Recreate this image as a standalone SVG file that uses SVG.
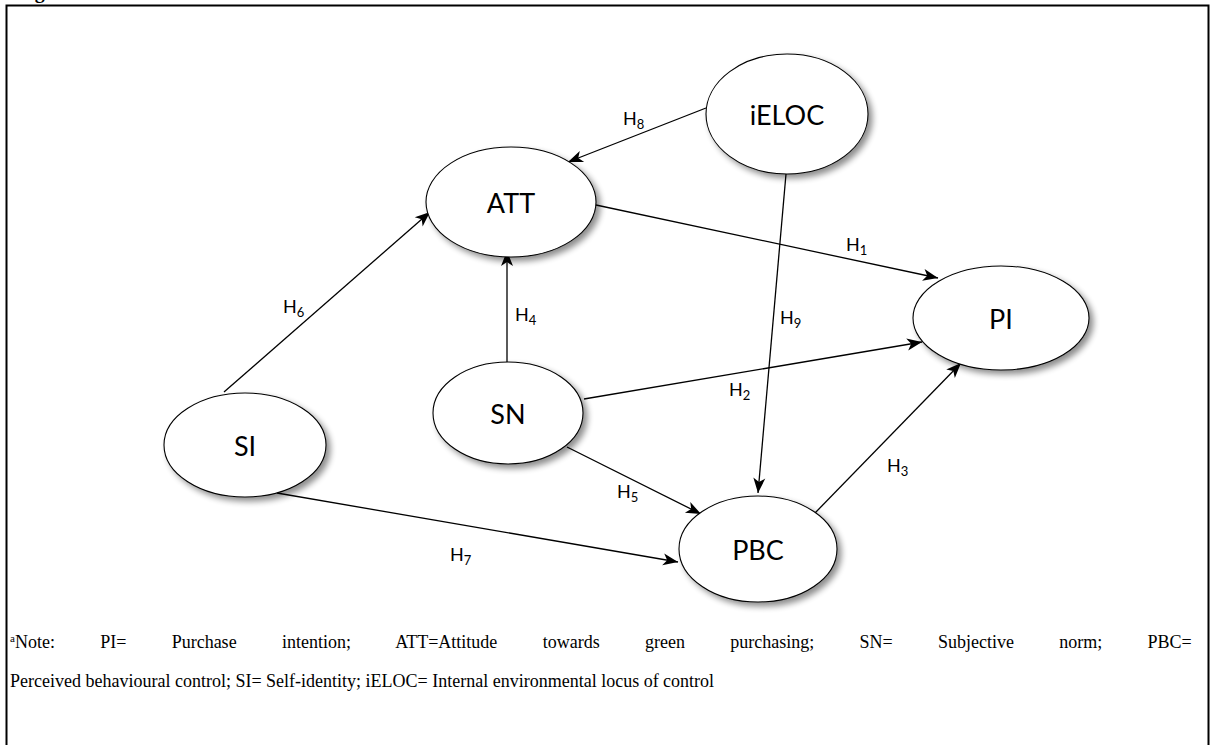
<svg xmlns="http://www.w3.org/2000/svg" width="1211" height="745" viewBox="0 0 1211 745">
<style>
.node{fill:#fff;stroke:#000;stroke-width:1.1;filter:url(#sh)}
.nt{font-family:Lato,"Open Sans",sans-serif;font-size:27px;fill:#000;text-anchor:middle;dominant-baseline:central}
.lb{font-family:Lato,"Open Sans",sans-serif;font-size:18px;fill:#000}
.sub{font-size:13px}
.edge{stroke:#000;stroke-width:1.3;fill:none;marker-end:url(#ah)}
.note{font-family:"Liberation Serif","Times New Roman",serif;font-size:18px;fill:#000}
</style>
<defs>
<filter id="sh" x="-20%" y="-20%" width="140%" height="150%">
<feGaussianBlur in="SourceAlpha" stdDeviation="3"/>
<feOffset dx="4" dy="4" result="b"/>
<feComponentTransfer><feFuncA type="linear" slope="0.45"/></feComponentTransfer>
<feMerge><feMergeNode/><feMergeNode in="SourceGraphic"/></feMerge>
</filter>
<marker id="ah" markerWidth="18" markerHeight="14" refX="15" refY="0" viewBox="-1 -7 18 14" orient="auto" markerUnits="userSpaceOnUse">
<path d="M0,-6 L15,0 L0,6 L4,0 Z" fill="#000"/>
</marker>
</defs>
<rect width="1211" height="745" fill="#fff"/>
<text x="17" y="-2" font-family="Liberation Serif,serif" font-weight="bold" font-size="20">Figure 1</text>
<path d="M6.5,745 V5.5 H1208.5 V745" fill="none" stroke="#000" stroke-width="2"/>

<g id="connectors">
<line class="edge" x1="706" y1="108" x2="568" y2="162"/>
<line class="edge" x1="596" y1="205" x2="938" y2="278"/>
<line class="edge" x1="786" y1="174" x2="758" y2="493"/>
<line class="edge" x1="224" y1="392" x2="430" y2="212"/>
<line class="edge" x1="507" y1="363" x2="507" y2="251"/>
<line class="edge" x1="584" y1="399" x2="922" y2="342"/>
<line class="edge" x1="567" y1="447" x2="701" y2="514"/>
<line class="edge" x1="815" y1="513" x2="961" y2="363"/>
<line class="edge" x1="277" y1="493" x2="678" y2="562"/>
</g>

<g id="labels">
<text class="lb" x="623" y="125">H<tspan class="sub" dy="4">8</tspan></text>
<text class="lb" x="846" y="251">H<tspan class="sub" dy="4">1</tspan></text>
<text class="lb" x="780" y="324">H<tspan class="sub" dy="4">9</tspan></text>
<text class="lb" x="283" y="313">H<tspan class="sub" dy="4">6</tspan></text>
<text class="lb" x="515" y="321">H<tspan class="sub" dy="4">4</tspan></text>
<text class="lb" x="729" y="396">H<tspan class="sub" dy="4">2</tspan></text>
<text class="lb" x="887" y="472">H<tspan class="sub" dy="4">3</tspan></text>
<text class="lb" x="617" y="498">H<tspan class="sub" dy="4">5</tspan></text>
<text class="lb" x="450" y="561">H<tspan class="sub" dy="4">7</tspan></text>
</g>

<g id="iELOC"><ellipse class="node" cx="787" cy="114" rx="81" ry="60"/><text class="nt" x="787" y="114">iELOC</text></g>
<g id="ATT"><ellipse class="node" cx="511" cy="202" rx="85" ry="55"/><text class="nt" x="511" y="202">ATT</text></g>
<g id="PI"><ellipse class="node" cx="1001" cy="318" rx="88" ry="52"/><text class="nt" x="1001" y="318">PI</text></g>
<g id="SI"><ellipse class="node" cx="245" cy="445" rx="81" ry="52"/><text class="nt" x="245" y="445">SI</text></g>
<g id="SN"><ellipse class="node" cx="508" cy="413" rx="75" ry="51"/><text class="nt" x="508" y="413">SN</text></g>
<g id="PBC"><ellipse class="node" cx="758" cy="549" rx="79" ry="53"/><text class="nt" x="758" y="549">PBC</text></g>

<g id="note">
<text class="note" x="10" y="648" word-spacing="40.8"><tspan font-size="11" dy="-6">a</tspan><tspan dy="6">Note: PI= Purchase intention; ATT=Attitude towards green purchasing; SN= Subjective norm; PBC=</tspan></text>
<text class="note" x="10" y="687">Perceived behavioural control; SI= Self-identity; iELOC= Internal environmental locus of control</text>
</g>
</svg>
